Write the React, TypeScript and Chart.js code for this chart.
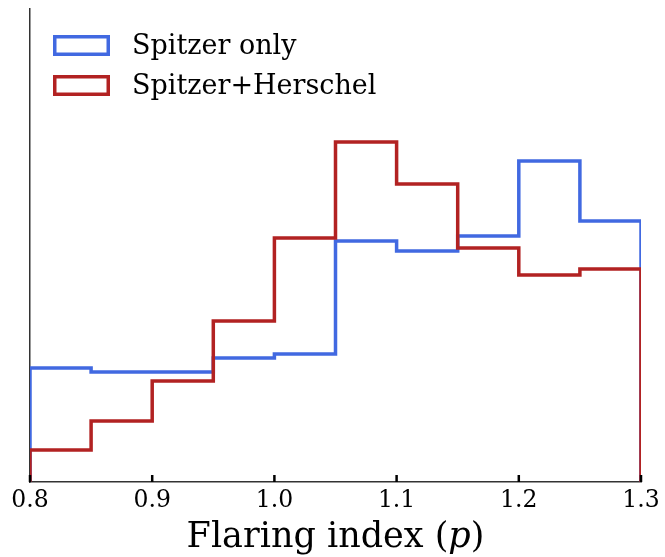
import React, { useEffect, useRef } from "react";
import { Chart, registerables } from "chart.js";

Chart.register(...registerables);

const binEdges = [0.8, 0.85, 0.9, 0.95, 1.0, 1.05, 1.1, 1.15, 1.2, 1.25, 1.3];
const tickValues = [0.8, 0.9, 1.0, 1.1, 1.2, 1.3];
const spitzerOnly = [114, 110, 110, 124, 128, 241, 231, 246, 321, 261];
const spitzerHerschel = [32, 61, 101, 161, 244, 340, 298, 234, 207, 213];
const seriesLabels = ["Spitzer only", "Spitzer+Herschel"];
const seriesColors = ["#4169E1", "#B22222"];
const yMax = 473;

function stepPoints(values: number[]) {
  const pts: { x: number; y: number }[] = [{ x: binEdges[0], y: 0 }];
  values.forEach((v, i) => {
    pts.push({ x: binEdges[i], y: v });
    pts.push({ x: binEdges[i + 1], y: v });
  });
  pts.push({ x: binEdges[binEdges.length - 1], y: 0 });
  return pts;
}

const FONT = "'DejaVu Serif', serif";

const decorPlugin = {
  id: "decor",
  afterDraw(chart: any) {
    const ctx = chart.ctx;
    const xs = chart.scales.x;
    const area = chart.chartArea;
    ctx.save();
    // inward ticks
    ctx.strokeStyle = "#000";
    ctx.lineWidth = 2.5;
    tickValues.forEach((v) => {
      const px = xs.getPixelForValue(v);
      ctx.beginPath();
      ctx.moveTo(px, area.bottom);
      ctx.lineTo(px, area.bottom - 7);
      ctx.stroke();
    });
    // x-axis title with italic p
    const parts = [
      { t: "Flaring index (", f: `35px ${FONT}` },
      { t: "p", f: `italic 35px ${FONT}` },
      { t: ")", f: `35px ${FONT}` },
    ];
    let total = 0;
    parts.forEach((p) => {
      ctx.font = p.f;
      total += ctx.measureText(p.t).width;
    });
    let x = (area.left + area.right) / 2 - total / 2;
    ctx.fillStyle = "#000";
    ctx.textBaseline = "alphabetic";
    ctx.textAlign = "left";
    parts.forEach((p) => {
      ctx.font = p.f;
      ctx.fillText(p.t, x, 547);
      x += ctx.measureText(p.t).width;
    });
    // legend
    ctx.font = `27px ${FONT}`;
    ctx.textBaseline = "middle";
    seriesLabels.forEach((lab, i) => {
      const cy = 45.5 + i * 40;
      ctx.strokeStyle = seriesColors[i];
      ctx.lineWidth = 3.5;
      ctx.strokeRect(54.75, cy - 8.75, 53.5, 17.5);
      ctx.fillStyle = "#000";
      ctx.fillText(lab, 132, cy + 1);
    });
    ctx.restore();
  },
};

export default function App() {
  const ref = useRef<HTMLCanvasElement>(null);
  useEffect(() => {
    document.body.style.margin = "0";
    const chart = new Chart(ref.current!, {
      type: "line",
      data: {
        datasets: [
          {
            label: seriesLabels[0],
            data: stepPoints(spitzerOnly),
            borderColor: seriesColors[0],
            borderWidth: 3.5,
            pointRadius: 0,
            fill: false,
            tension: 0,
            order: 2,
            borderJoinStyle: "miter",
          },
          {
            label: seriesLabels[1],
            data: stepPoints(spitzerHerschel),
            borderColor: seriesColors[1],
            borderWidth: 3.5,
            pointRadius: 0,
            fill: false,
            tension: 0,
            order: 1,
            borderJoinStyle: "miter",
          },
        ],
      },
      options: {
        animation: false,
        responsive: false,
        parsing: false,
        layout: { padding: { left: 30, top: 9, right: 24, bottom: 0 } },
        plugins: { legend: { display: false }, tooltip: { enabled: false } },
        scales: {
          x: {
            type: "linear",
            min: 0.8,
            max: 1.3,
            afterBuildTicks: (s: any) => {
              s.ticks = tickValues.map((v) => ({ value: v }));
            },
            afterFit: (s: any) => {
              s.height = 75;
            },
            ticks: {
              callback: (v: any) => Number(v).toFixed(1),
              font: { family: FONT, size: 23.5 },
              color: "#000",
              padding: 5,
              maxRotation: 0,
              autoSkip: false,
            },
            grid: { display: false, drawTicks: false },
            border: { display: true, color: "#333", width: 1.5 },
          },
          y: {
            type: "linear",
            min: 0,
            max: yMax,
            afterFit: (s: any) => {
              s.width = 0;
            },
            ticks: { display: false },
            grid: { display: false, drawTicks: false },
            border: { display: true, color: "#333", width: 1.5 },
          },
        },
      },
      plugins: [decorPlugin],
    } as any);
    return () => chart.destroy();
  }, []);
  return (
    <div style={{ position: "absolute", left: 0, top: 0, width: 665, height: 557, background: "#fff" }}>
      <canvas ref={ref} width={665} height={557} />
    </div>
  );
}
